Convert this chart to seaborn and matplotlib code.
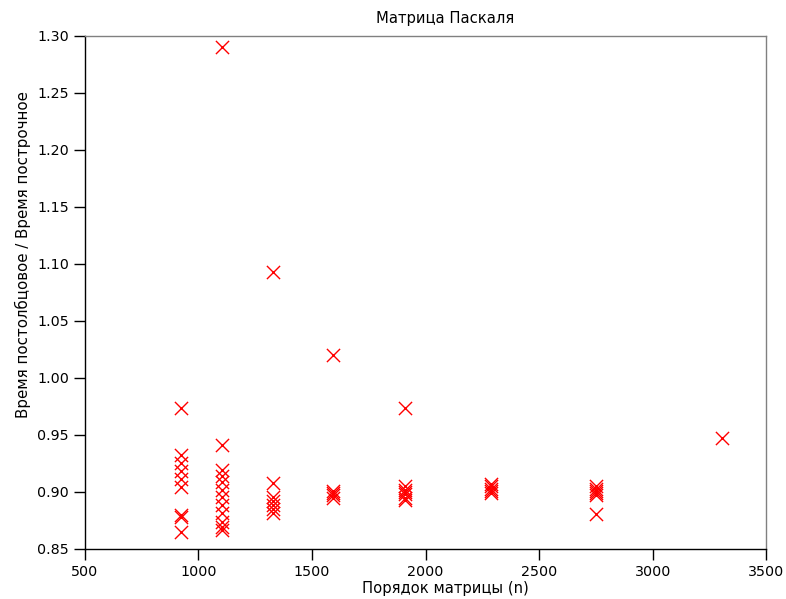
import matplotlib
matplotlib.use("Agg")
import matplotlib.pyplot as plt
import seaborn as sns
import pandas as pd

n_924 = [0.974, 0.932, 0.925, 0.918, 0.911, 0.904, 0.880, 0.878, 0.865]
n_1104 = [1.290, 0.941, 0.919, 0.914, 0.909, 0.902, 0.896, 0.889, 0.882, 0.874, 0.869, 0.867]
n_1328 = [1.093, 0.908, 0.896, 0.892, 0.889, 0.885, 0.882]
n_1592 = [1.020, 0.901, 0.899, 0.897, 0.895]
n_1910 = [0.974, 0.905, 0.902, 0.900, 0.898, 0.895, 0.893]
n_2290 = [0.907, 0.905, 0.903, 0.901, 0.899]
n_2750 = [0.905, 0.903, 0.901, 0.899, 0.897, 0.881]
n_3300 = [0.947]

orders = [924, 1104, 1328, 1592, 1910, 2290, 2750, 3305]
ratios = [n_924, n_1104, n_1328, n_1592, n_1910, n_2290, n_2750, n_3300]

xs, ys = [], []
for n, vals in zip(orders, ratios):
    for v in vals:
        xs.append(n)
        ys.append(v)
df = pd.DataFrame({"n": xs, "ratio": ys})

sns.set_style("white")
plt.rcParams['font.family'] = ['DejaVu Sans']
plt.rcParams['text.color'] = 'black'
plt.rcParams['axes.labelcolor'] = 'black'
fig = plt.figure(figsize=(7.86, 5.99), dpi=100)
ax = fig.add_axes([0.108, 0.0835, 0.867, 0.8565])
sns.scatterplot(data=df, x="n", y="ratio", marker="x", color="red", s=90,
                linewidth=1.0, ax=ax, legend=False)
ax.set_xlim(500, 3500)
ax.set_ylim(0.85, 1.30)
ax.set_xticks([500, 1000, 1500, 2000, 2500, 3000, 3500])
ax.set_yticks([0.85, 0.90, 0.95, 1.00, 1.05, 1.10, 1.15, 1.20, 1.25, 1.30])
ax.set_yticklabels([f"{v:.2f}" for v in ax.get_yticks()])
ax.tick_params(axis="both", direction="out", length=8, width=1, labelsize=10.3,
               bottom=True, left=True, top=False, right=False, colors="black")
ax.spines["left"].set_color("black")
ax.spines["bottom"].set_color("black")
ax.spines["top"].set_color("gray")
ax.spines["right"].set_color("gray")
for s in ax.spines.values():
    s.set_linewidth(1)
ax.set_xlabel("Порядок матрицы (n)", fontsize=10.6, color="black")
ax.xaxis.set_label_coords(0.529, -0.062)
ax.set_ylabel("Время постолбцовое / Время построчное", fontsize=10.8, color="black", labelpad=4)
ax.yaxis.label.set_y(0.573)
ax.set_title("Матрица Паскаля", fontsize=10.6, color="black", pad=9, x=0.529)
fig.savefig("out.png", dpi=100)
